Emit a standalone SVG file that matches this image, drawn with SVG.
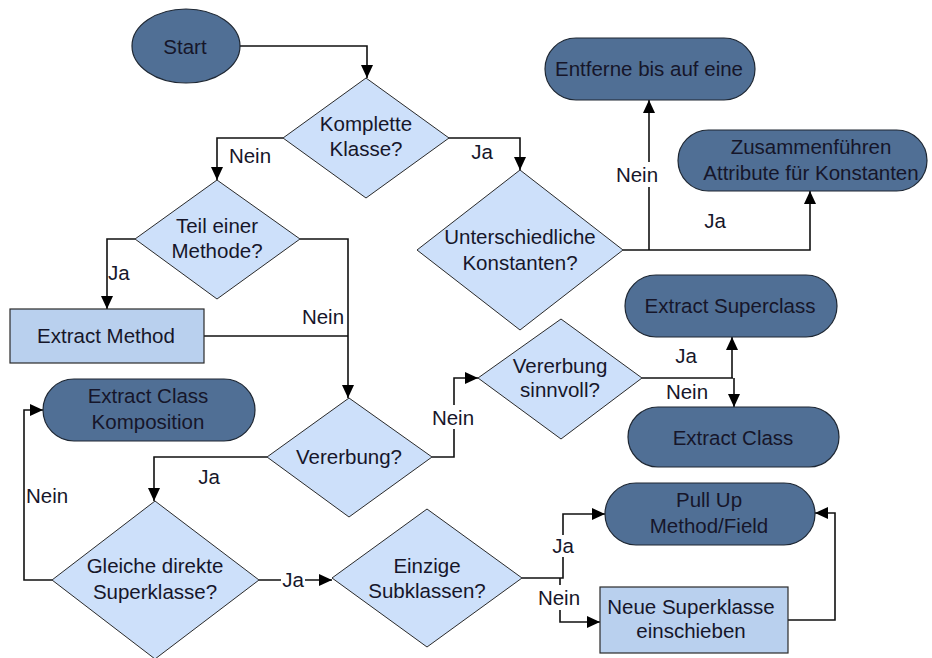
<svg xmlns="http://www.w3.org/2000/svg" width="932" height="658" viewBox="0 0 932 658">
  <style>
    text { font-family: "Liberation Sans", Arial, sans-serif; font-size: 20.5px; fill: #16162a; text-anchor: middle; }
    .term { fill: #506f95; stroke: #1e2733; stroke-width: 1.2; }
    .dec { fill: #cde0fa; stroke: #2a2a2a; stroke-width: 1; }
    .proc { fill: #b9d0ee; stroke: #2a2a2a; stroke-width: 1.2; }
    .wire { fill: none; stroke: #111; stroke-width: 1.6; }
    .arrow { marker-end: url(#head); }
    .bg { fill: #ffffff; stroke: none; }
  </style>
  <defs>
    <marker id="head" markerUnits="userSpaceOnUse" markerWidth="14" markerHeight="13" refX="13" refY="6" orient="auto">
      <path d="M0,0 L13,6 L0,12 z" fill="#000"/>
    </marker>
  </defs>

  <rect width="932" height="658" fill="#ffffff"/>

  <!-- connectors -->
  <g id="connectors">
    <path class="wire arrow" d="M240,46 H367 V78"/>
    <path class="wire arrow" d="M283,138 H217 V180"/>
    <path class="wire arrow" d="M448,138 H520 V170"/>
    <path class="wire arrow" d="M135,239 H107 V309"/>
    <path class="wire arrow" d="M300,239 H348 V398"/>
    <path class="wire" d="M204,336 H348"/>
    <path class="wire arrow" d="M267,457 H154 V501"/>
    <path class="wire arrow" d="M432,457 H454 V378 H478"/>
    <path class="wire" d="M642,378 H733"/>
    <path class="wire arrow" d="M732,378 V337"/>
    <path class="wire arrow" d="M734,378 V407"/>
    <path class="wire arrow" d="M52,580 H24 V410 H43"/>
    <path class="wire arrow" d="M259,580 H332"/>
    <path class="wire arrow" d="M522,578 H563 V514 H605"/>
    <path class="wire arrow" d="M560,578 V622 H600"/>
    <path class="wire arrow" d="M788,620 H835 V513 H815"/>
    <path class="wire arrow" d="M623,250 H810 V191"/>
    <path class="wire arrow" d="M649,250 V100"/>
  </g>

  <!-- nodes -->
  <g id="start">
    <ellipse class="term" cx="186" cy="46" rx="54" ry="37"/>
    <text x="185" y="54">Start</text>
  </g>
  <g id="komplette-klasse">
    <polygon class="dec" points="366,78 449,138 366,198 283,138"/>
    <text x="366" y="131">Komplette</text>
    <text x="366" y="156">Klasse?</text>
  </g>
  <g id="teil-einer-methode">
    <polygon class="dec" points="217,180 300,239 217,299 135,239"/>
    <text x="217" y="233">Teil einer</text>
    <text x="217" y="258">Methode?</text>
  </g>
  <g id="unterschiedliche-konstanten">
    <polygon class="dec" points="520,170 623,250 520,330 417,250"/>
    <text x="520" y="244">Unterschiedliche</text>
    <text x="520" y="270">Konstanten?</text>
  </g>
  <g id="entferne">
    <rect class="term" x="545" y="38" width="210" height="62" rx="31"/>
    <text x="649" y="76">Entferne bis auf eine</text>
  </g>
  <g id="zusammenfuehren">
    <rect class="term" x="678" y="130" width="249" height="61" rx="30.5"/>
    <text x="811" y="154">Zusammenführen</text>
    <text x="811" y="180">Attribute für Konstanten</text>
  </g>
  <g id="extract-method">
    <rect class="proc" x="10" y="309" width="194" height="54"/>
    <text x="106" y="343">Extract Method</text>
  </g>
  <g id="vererbung">
    <polygon class="dec" points="349,398 432,457 349,517 267,457"/>
    <text x="349" y="464">Vererbung?</text>
  </g>
  <g id="vererbung-sinnvoll">
    <polygon class="dec" points="561,319 642,378 561,439 478,378"/>
    <text x="560" y="373">Vererbung</text>
    <text x="560" y="397">sinnvoll?</text>
  </g>
  <g id="extract-superclass">
    <rect class="term" x="625" y="275" width="212" height="62" rx="31"/>
    <text x="730" y="313">Extract Superclass</text>
  </g>
  <g id="extract-class">
    <rect class="term" x="628" y="407" width="211" height="60" rx="30"/>
    <text x="733" y="445">Extract Class</text>
  </g>
  <g id="extract-class-komposition">
    <rect class="term" x="43" y="379" width="212" height="62" rx="31"/>
    <text x="148" y="403">Extract Class</text>
    <text x="148" y="429">Komposition</text>
  </g>
  <g id="gleiche-superklasse">
    <polygon class="dec" points="155,501 259,580 155,659 52,580"/>
    <text x="155" y="573">Gleiche direkte</text>
    <text x="155" y="599">Superklasse?</text>
  </g>
  <g id="einzige-subklassen">
    <polygon class="dec" points="427,509 522,578 427,647 332,578"/>
    <text x="427" y="573">Einzige</text>
    <text x="427" y="598">Subklassen?</text>
  </g>
  <g id="pull-up">
    <rect class="term" x="605" y="483" width="210" height="62" rx="31"/>
    <text x="709" y="507">Pull Up</text>
    <text x="709" y="533">Method/Field</text>
  </g>
  <g id="neue-superklasse">
    <rect class="proc" x="600" y="587" width="188" height="66"/>
    <text x="691" y="614">Neue Superklasse</text>
    <text x="691" y="638">einschieben</text>
  </g>

  <!-- branch labels -->
  <g id="labels">
    <text x="250" y="163">Nein</text>
    <text x="482" y="159">Ja</text>
    <text x="108" y="280" style="text-anchor:start">Ja</text>
    <text x="323" y="324">Nein</text>
    <text x="209" y="484">Ja</text>
    <rect class="bg" x="432" y="405" width="43" height="24"/>
    <text x="453" y="425">Nein</text>
    <text x="686" y="363">Ja</text>
    <text x="687" y="399">Nein</text>
    <text x="26" y="503" style="text-anchor:start">Nein</text>
    <rect class="bg" x="281" y="570" width="24" height="22"/>
    <text x="293" y="587">Ja</text>
    <rect class="bg" x="551" y="535" width="24" height="22"/>
    <text x="563" y="553">Ja</text>
    <rect class="bg" x="538" y="585" width="43" height="25"/>
    <text x="559" y="605">Nein</text>
    <rect class="bg" x="615" y="162" width="44" height="25"/>
    <text x="637" y="182">Nein</text>
    <text x="715" y="228">Ja</text>
  </g>
</svg>
